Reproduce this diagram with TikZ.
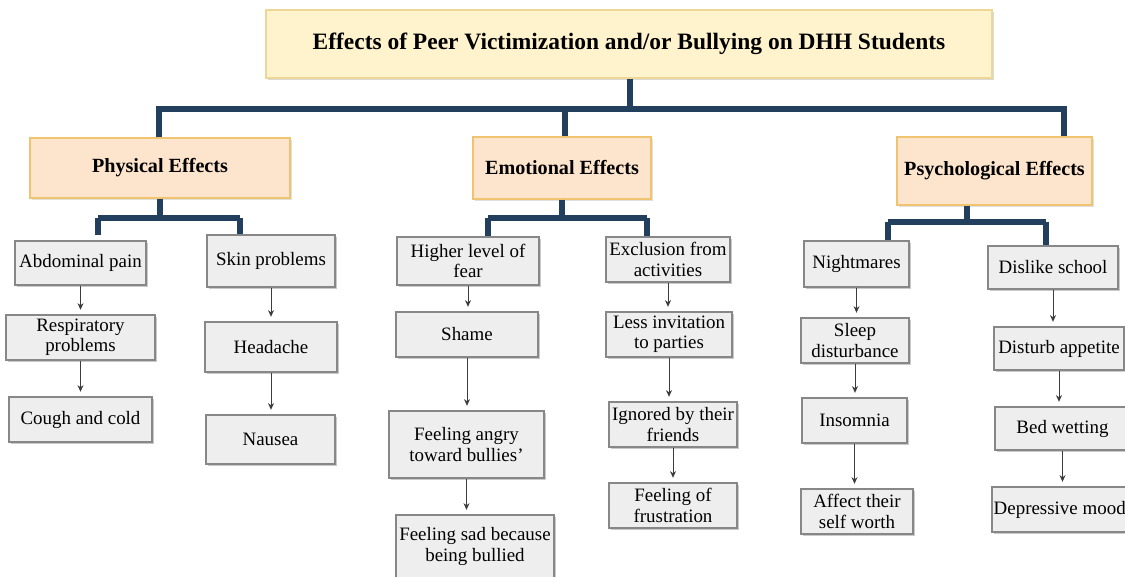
\documentclass[tikz,border=0pt]{standalone}
\usepackage{fontspec}
\setmainfont{Liberation Serif}
\usetikzlibrary{fit,shadows,arrows.meta,calc}
\definecolor{busc}{RGB}{34,64,94}
\definecolor{titfill}{RGB}{255,243,205}
\definecolor{titdraw}{RGB}{238,214,150}
\definecolor{catfill}{RGB}{253,228,204}
\definecolor{catdraw}{RGB}{240,196,110}
\definecolor{gfill}{RGB}{238,238,238}
\definecolor{gdraw}{RGB}{135,135,135}
\definecolor{arrc}{RGB}{60,60,60}
\tikzset{
  titlebox/.style={draw=titdraw, fill=titfill, line width=0.8pt, inner sep=0pt,
    drop shadow={shadow xshift=1.2pt, shadow yshift=-1.6pt, fill=black!25, opacity=0.6}},
  catbox/.style={draw=catdraw, fill=catfill, line width=0.8pt, inner sep=0pt,
    drop shadow={shadow xshift=1.2pt, shadow yshift=-1.6pt, fill=black!20, opacity=0.6}},
  gbox/.style={draw=gdraw, fill=gfill, line width=0.8pt, inner sep=0pt,
    drop shadow={shadow xshift=1.2pt, shadow yshift=-1.4pt, fill=black!35, opacity=0.6}},
  bus/.style={draw=busc, line width=4.5pt, line join=miter},
  arr/.style={draw=arrc, line width=0.7pt, -{Stealth[length=5pt,width=4.5pt]}, shorten >=3.5pt},
  lbl/.style={align=center, inner sep=0pt, font=\fontsize{14.2}{15.2}\selectfont},
  titlbl/.style={inner sep=0pt, font=\fontsize{17.6}{20}\selectfont\bfseries},
  catlbl/.style={inner sep=0pt, font=\fontsize{15.1}{17}\selectfont\bfseries},
}
\begin{document}
\begin{tikzpicture}[x=0.75pt,y=-0.75pt]
\useasboundingbox (0,0) rectangle (1125,577);
% title and categories
\node[titlebox, fit={(266,10)(992,78)}] (title) {};
\node[titlbl] (titletext) at (title.center) {Effects of Peer Victimization and/or Bullying on DHH Students};
\node[catbox, fit={(30,138)(290,198)}] (phys) {};
\node[catlbl] (physt) at (phys.center) {Physical Effects};
\node[catbox, fit={(473,137)(651,199)}] (emot) {};
\node[catlbl] (emott) at (emot.center) {Emotional Effects};
\node[catbox, fit={(897,137)(1092,205)}] (psych) {};
\node[catlbl] (psycht) at (psych.center) {Psychological Effects};

% main bus
\coordinate (mb) at (630,109);
\coordinate (mbl) at (159,109);
\coordinate (mbr) at (1064,109);
\coordinate (mbc) at (565,109);
\draw[bus] (title.south -| mb) -- (mb);
\draw[bus] (phys.north -| mbl) -- (mbl) -- (mbr) -- (psych.north -| mbr);
\draw[bus] (mbc) -- (emot.north -| mbc);

% physical children
\node[gbox, fit={(15,241)(146,285)}] (abd) {};
\node[gbox, fit={(207,235)(335,287)}] (skin) {};
\node[gbox, fit={(6,315)(155,360)}] (resp) {};
\node[gbox, fit={(9,397)(152,442)}] (cough) {};
\node[gbox, fit={(205,322)(337,372)}] (head) {};
\node[gbox, fit={(206,415)(335,464)}] (naus) {};

% emotional children
\node[gbox, fit={(397,237)(539,285)}] (fear) {};
\node[gbox, fit={(396,312)(538,357)}] (shame) {};
\node[gbox, fit={(389,411)(544,478)}] (angry) {};
\node[gbox, fit={(396,515)(554,582)}] (sad) {};
\node[gbox, fit={(606,237)(730,282)}] (excl) {};
\node[gbox, fit={(606,312)(732,357)}] (less) {};
\node[gbox, fit={(609,402)(737,447)}] (ign) {};
\node[gbox, fit={(609,483)(737,528)}] (frus) {};

% psychological children
\node[gbox, fit={(804,241)(909,287)}] (night) {};
\node[gbox, fit={(801,318)(909,363)}] (sleep) {};
\node[gbox, fit={(802,398)(907,443)}] (insom) {};
\node[gbox, fit={(801,489)(913,534)}] (aff) {};
\node[gbox, fit={(988,246)(1118,289)}] (dis) {};
\node[gbox, fit={(994,327)(1124,370)}] (app) {};
\node[gbox, fit={(995,407)(1130,450)}] (bed) {};
\node[gbox, fit={(992,487)(1132,532)}] (dep) {};

% texts
\node[lbl] (abdt) at (abd.center) {Abdominal pain};
\node[lbl] (skint) at (skin.center) {Skin problems};
\node[lbl] (respt) at (resp.center) {Respiratory\\problems};
\node[lbl] (cought) at (cough.center) {Cough and cold};
\node[lbl] (headt) at (head.center) {Headache};
\node[lbl] (naust) at (naus.center) {Nausea};
\node[lbl] (feart) at (fear.center) {Higher level of\\fear};
\node[lbl] (shamet) at (shame.center) {Shame};
\node[lbl] (angryt) at (angry.center) {Feeling angry\\toward bullies\char"27};
\node[lbl] (sadt) at ($(sad.north)+(0,32)$) {Feeling sad because\\being bullied};
\node[lbl] (exclt) at (excl.center) {Exclusion from\\activities};
\node[lbl] (lesst) at (less.center) {Less invitation\\to parties};
\node[lbl] (ignt) at (ign.center) {Ignored by their\\friends};
\node[lbl] (frust) at (frus.center) {Feeling of\\frustration};
\node[lbl] (nightt) at (night.center) {Nightmares};
\node[lbl] (sleept) at (sleep.center) {Sleep\\disturbance};
\node[lbl] (insomt) at (insom.center) {Insomnia};
\node[lbl] (afft) at (aff.center) {Affect their\\self worth};
\node[lbl] (dist) at (dis.center) {Dislike school};
\node[lbl] (appt) at (app.center) {Disturb appetite};
\node[lbl] (bedt) at (bed.center) {Bed wetting};
\node[lbl, anchor=west] (dept) at ($(dep.west)+(2,0)$) {Depressive mood};

% sub buses
\coordinate (pb) at (160,218); \coordinate (pl) at (98,218); \coordinate (pr) at (240,218);
\coordinate (pld) at (98,235);
\draw[bus] (phys.south -| pb) -- (pb);
\draw[bus] (pl) -- (pr);
\draw[bus] (pl) -- (pld);
\draw[bus] (pr) -- (skin.north -| pr);
\coordinate (eb) at (562,218); \coordinate (el) at (488,218); \coordinate (er) at (647,218);
\draw[bus] (emot.south -| eb) -- (eb);
\draw[bus] (el) -- (er);
\draw[bus] (el) -- (fear.north -| el);
\draw[bus] (er) -- (excl.north -| er);
\coordinate (sb) at (967,222); \coordinate (sl) at (888,222); \coordinate (sr) at (1046,222);
\draw[bus] (psych.south -| sb) -- (sb);
\draw[bus] (sl) -- (sr);
\draw[bus] (sl) -- (night.north -| sl);
\draw[bus] (sr) -- (dis.north -| sr);

% arrows
\draw[arr] (abd.south) -- (abd.south |- resp.north);
\draw[arr] (resp.south) -- (resp.south |- cough.north);
\draw[arr] (skin.south) -- (skin.south |- head.north);
\draw[arr] (head.south) -- (head.south |- naus.north);
\draw[arr] (fear.south) -- (fear.south |- shame.north);
\draw[arr] (shame.south) -- (shame.south |- angry.north);
\draw[arr] (angry.south) -- (angry.south |- sad.north);
\draw[arr] (excl.south) -- (excl.south |- less.north);
\draw[arr] (less.south) -- (less.south |- ign.north);
\draw[arr] (ign.south) -- (ign.south |- frus.north);
\draw[arr] (night.south) -- (night.south |- sleep.north);
\draw[arr] (sleep.south) -- (sleep.south |- insom.north);
\draw[arr] (insom.south) -- (insom.south |- aff.north);
\draw[arr] (dis.south) -- (dis.south |- app.north);
\draw[arr] (app.south) -- (app.south |- bed.north);
\draw[arr] (bed.south) -- (bed.south |- dep.north);
\end{tikzpicture}
\end{document}
